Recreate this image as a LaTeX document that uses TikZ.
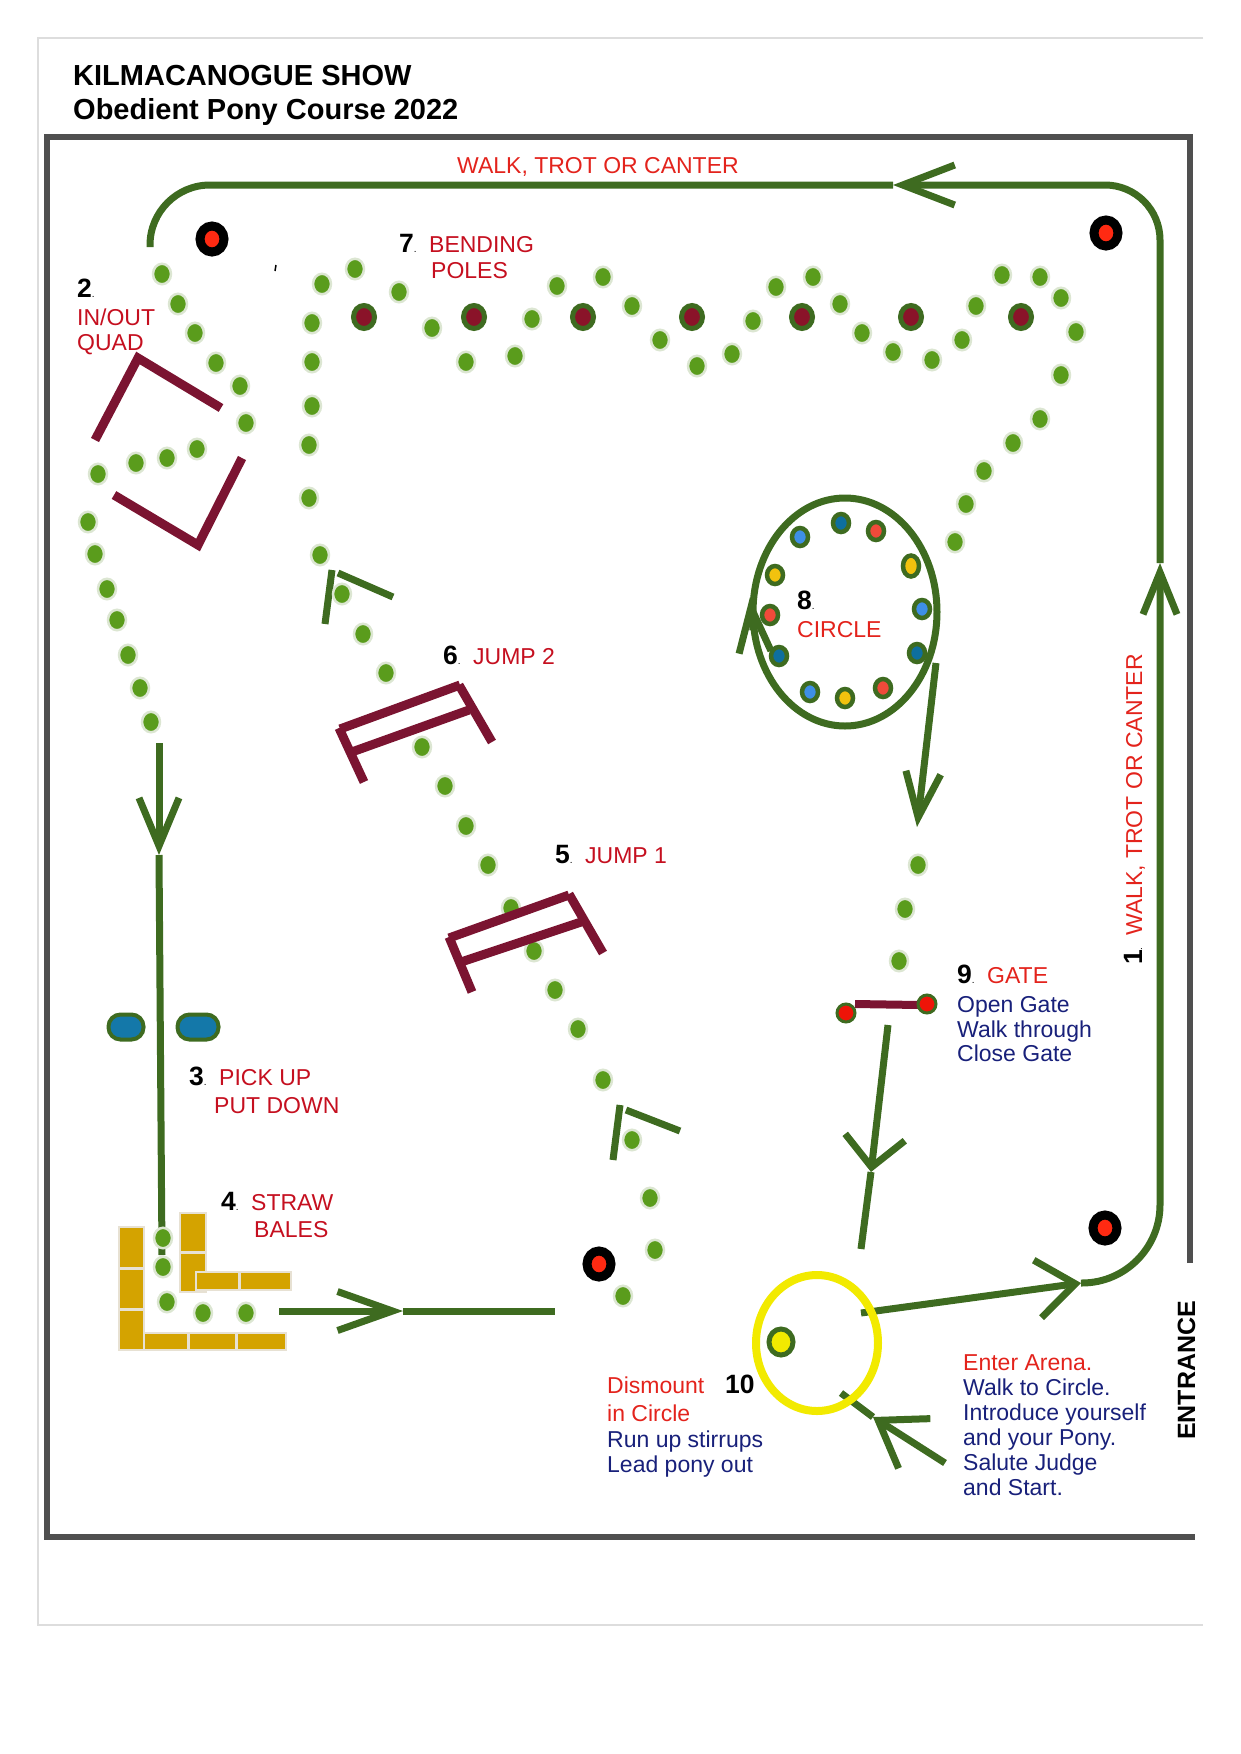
\documentclass[tikz,border=0pt]{standalone}
\usepackage{fontspec}
\setmainfont{Liberation Sans}
\usetikzlibrary{arrows.meta,shapes.geometric}
\definecolor{trackgreen}{HTML}{3E6B20}
\definecolor{conegreen}{HTML}{5A9C1C}
\definecolor{conerim}{HTML}{DCE6D2}
\definecolor{jumpred}{HTML}{7B1431}
\definecolor{polefill}{HTML}{8A1329}
\definecolor{postred}{HTML}{FF2A12}
\definecolor{gatered}{HTML}{EE1408}
\definecolor{framegray}{HTML}{4F4F4F}
\definecolor{edgegray}{HTML}{DDDDDD}
\definecolor{labelred}{HTML}{C50F1F}
\definecolor{brightred}{HTML}{E3231C}
\definecolor{noteblue}{HTML}{18207A}
\definecolor{straw}{HTML}{D4A300}
\definecolor{strawrim}{HTML}{E7E1D3}
\definecolor{ovalblue}{HTML}{1478A9}
\definecolor{cirblue}{HTML}{3E8FE6}
\definecolor{cirteal}{HTML}{0E6F9E}
\definecolor{cirred}{HTML}{F04A3A}
\definecolor{ciryel}{HTML}{F2C20E}
\definecolor{ringyel}{HTML}{F2EA00}
\newcommand{\numdot}{{\fontsize{10}{10}\selectfont\mdseries .}}

\begin{document}
\begin{tikzpicture}[x=1pt,y=-1pt,
	track/.style={draw=trackgreen,line width=7pt},
	headed/.style 2 args={-{Straight Barb[length=#1,width=#2]}},
	cone/.style={ellipse,fill=conegreen,draw=conerim,line width=2.5pt,inner sep=0,minimum width=18pt,minimum height=20.5pt},
	pole/.style={ellipse,fill=polefill,draw=trackgreen,line width=5pt,inner sep=0,minimum width=21pt,minimum height=23pt},
	post/.style={ellipse,fill=postred,draw=black,line width=9pt,inner sep=0,minimum width=24pt,minimum height=26pt},
	marker/.style={ellipse,draw=trackgreen,line width=4.5pt,inner sep=0,minimum width=16pt,minimum height=18pt},
	oval/.style={rectangle,rounded corners=12pt,fill=ovalblue,draw=trackgreen,line width=4pt,inner sep=0,minimum height=25pt},
	bale/.style={fill=straw,draw=strawrim,line width=2.5pt},
	jump/.style={draw=jumpred,line width=9pt},
	num/.style={anchor=base west,inner sep=0,font=\fontsize{26.5}{28}\selectfont\bfseries},
	lbl/.style={anchor=base west,inner sep=0,text=labelred,font=\fontsize{23}{25}\selectfont},
	lblb/.style={lbl,text=brightred},
	note/.style={lbl,text=noteblue}]
	\useasboundingbox (0,0) rectangle (1240,1754);
	% frames
	\draw[edgegray,line width=2.5pt] (1203,38) -- (38,38) -- (38,1625) -- (1203,1625);
	\draw[framegray,line width=6.5pt] (1190,1263) -- (1190,137) -- (47,137) -- (47,1537) -- (1195,1537);
	% title
	\node[anchor=base west,inner sep=0,font=\fontsize{29}{31}\selectfont\bfseries] (title) at (73,85) {KILMACANOGUE SHOW};
	\node[anchor=base west,inner sep=0,font=\fontsize{29}{31}\selectfont\bfseries] (subtitle) at (73,119) {Obedient Pony Course 2022};
	% track
	\coordinate (e0) at (945,1463);
	\coordinate (ea) at (873,1417);
	\coordinate (e1) at (841,1393);
	\coordinate (y0) at (861,1313);
	\coordinate (y1) at (1081,1283);
	\coordinate (brc) at (1160,1282);
	\coordinate (rt) at (1160,563);
	\coordinate (trc) at (1160,185);
	\coordinate (ta) at (893,185);
	\coordinate (tlc) at (150,185);
	\coordinate (tl0) at (150,247);
	\coordinate (l0) at (159,743);
	\coordinate (la) at (159,855);
	\coordinate (l1) at (162,1255);
	\coordinate (h0) at (279,1311);
	\coordinate (ha) at (403,1311);
	\coordinate (h1) at (555,1311);
	\coordinate (ca0) at (753,630);
	\coordinate (ca) at (750,597);
	\coordinate (cx0) at (936,663);
	\coordinate (cx1) at (917,827);
	\coordinate (g0) at (888,1025);
	\coordinate (ga) at (871,1172);
	\coordinate (g1) at (861,1249);
	\draw[track,headed={43pt}{59pt}] (e0) -- (ea);
	\draw[track] (ea) -- (e1);
	\draw[track,headed={38pt}{58pt}] (y0) -- (y1);
	\draw[track,rounded corners=77pt,headed={42pt}{34pt}] (y1) -- (brc) -- (rt);
	\draw[track,rounded corners=55pt,headed={52pt}{40pt}] (rt) -- (trc) -- (ta);
	\draw[track,rounded corners=60pt] (ta) -- (tlc) -- (tl0);
	\draw[track,headed={48pt}{40pt}] (l0) -- (la);
	\draw[track] (la) -- (l1);
	\draw[track,headed={55pt}{39pt}] (h0) -- (ha);
	\draw[track] (ha) -- (h1);
	\node[ellipse,draw=trackgreen,line width=7pt,minimum width=184pt,minimum height=228pt] (ring) at (845,612) {};
	\draw[track,headed={45pt}{32pt}] (ca0) -- (ca);
	\draw[track,headed={45pt}{35pt}] (cx0) -- (cx1);
	\draw[track,headed={30pt}{60pt}] (g0) -- (ga);
	\draw[track] (ga) -- (g1);
	% flags
	\draw[trackgreen,line width=7pt] (332,570) -- (325,624);
	\draw[trackgreen,line width=7pt] (338,573) -- (393,597);
	\draw[trackgreen,line width=7pt] (620,1105) -- (613,1160);
	\draw[trackgreen,line width=7pt] (626,1110) -- (680,1131);
	\draw[line width=1.5pt] (276,265) -- (275,271);
	% cones
	\node[cone] (c1) at (162,274) {};
	\node[cone] (c2) at (178,304) {};
	\node[cone] (c3) at (195,333) {};
	\node[cone] (c4) at (216,363) {};
	\node[cone] (c5) at (240,386) {};
	\node[cone] (c6) at (246,423) {};
	\node[cone] (c7) at (197,449) {};
	\node[cone] (c8) at (167,458) {};
	\node[cone] (c9) at (136,463) {};
	\node[cone] (c10) at (98,474) {};
	\node[cone] (c11) at (88,522) {};
	\node[cone] (c12) at (95,554) {};
	\node[cone] (c13) at (107,589) {};
	\node[cone] (c14) at (117,620) {};
	\node[cone] (c15) at (128,655) {};
	\node[cone] (c16) at (140,688) {};
	\node[cone] (c17) at (151,722) {};
	\node[cone] (c18) at (163,1238) {};
	\node[cone] (c19) at (163,1267) {};
	\node[cone] (c20) at (167,1302) {};
	\node[cone] (c21) at (203,1313) {};
	\node[cone] (c22) at (246,1313) {};
	\node[cone] (c23) at (623,1296) {};
	\node[cone] (c24) at (655,1250) {};
	\node[cone] (c25) at (650,1198) {};
	\node[cone] (c26) at (632,1140) {};
	\node[cone] (c27) at (603,1080) {};
	\node[cone] (c28) at (578,1029) {};
	\node[cone] (c29) at (555,990) {};
	\node[cone] (c30) at (534,951) {};
	\node[cone] (c31) at (511,908) {};
	\node[cone] (c32) at (488,865) {};
	\node[cone] (c33) at (466,826) {};
	\node[cone] (c34) at (445,786) {};
	\node[cone] (c35) at (422,747) {};
	\node[cone] (c36) at (386,673) {};
	\node[cone] (c37) at (363,634) {};
	\node[cone] (c38) at (342,594) {};
	\node[cone] (c39) at (320,555) {};
	\node[cone] (c40) at (309,498) {};
	\node[cone] (c41) at (309,445) {};
	\node[cone] (c42) at (312,406) {};
	\node[cone] (c43) at (312,362) {};
	\node[cone] (c44) at (312,323) {};
	\node[cone] (c45) at (322,284) {};
	\node[cone] (c46) at (355,269) {};
	\node[cone] (c47) at (399,292) {};
	\node[cone] (c48) at (432,328) {};
	\node[cone] (c49) at (466,362) {};
	\node[cone] (c50) at (515,356) {};
	\node[cone] (c51) at (532,319) {};
	\node[cone] (c52) at (557,286) {};
	\node[cone] (c53) at (603,277) {};
	\node[cone] (c54) at (632,306) {};
	\node[cone] (c55) at (660,340) {};
	\node[cone] (c56) at (697,366) {};
	\node[cone] (c57) at (732,354) {};
	\node[cone] (c58) at (753,321) {};
	\node[cone] (c59) at (776,287) {};
	\node[cone] (c60) at (813,277) {};
	\node[cone] (c61) at (840,304) {};
	\node[cone] (c62) at (862,333) {};
	\node[cone] (c63) at (893,352) {};
	\node[cone] (c64) at (932,360) {};
	\node[cone] (c65) at (962,340) {};
	\node[cone] (c66) at (976,306) {};
	\node[cone] (c67) at (1002,275) {};
	\node[cone] (c68) at (1040,277) {};
	\node[cone] (c69) at (1061,298) {};
	\node[cone] (c70) at (1076,332) {};
	\node[cone] (c71) at (1061,375) {};
	\node[cone] (c72) at (1040,419) {};
	\node[cone] (c73) at (1013,443) {};
	\node[cone] (c74) at (984,471) {};
	\node[cone] (c75) at (966,504) {};
	\node[cone] (c76) at (955,542) {};
	\node[cone] (c77) at (918,865) {};
	\node[cone] (c78) at (905,909) {};
	\node[cone] (c79) at (899,961) {};
	% bending poles
	\node[pole] (p1) at (364,317) {};
	\node[pole] (p2) at (474,317) {};
	\node[pole] (p3) at (583,317) {};
	\node[pole] (p4) at (692,317) {};
	\node[pole] (p5) at (802,317) {};
	\node[pole] (p6) at (911,317) {};
	\node[pole] (p7) at (1021,317) {};
	% quad and jumps
	\draw[jump] (95,440) -- (138,358) -- (221,408);
	\draw[jump] (242,458) -- (198,545) -- (114,495);
	\draw[jump] (340,729) -- (460,685);
	\draw[jump] (349,753) -- (469,710);
	\draw[jump] (339,728) -- (364,782);
	\draw[jump] (459,685) -- (492,742);
	\draw[jump] (449,938) -- (569,895);
	\draw[jump] (458,963) -- (581,922);
	\draw[jump] (449,937) -- (472,992);
	\draw[jump] (569,894) -- (603,953);
	% posts
	\node[post] (post1) at (212,239) {};
	\node[post] (post2) at (1106,233) {};
	\node[post] (post3) at (1105,1228) {};
	\node[post] (post4) at (599,1264) {};
	% circle markers
	\node[marker,fill=cirblue] (m1) at (800,537) {};
	\node[marker,fill=cirteal] (m2) at (841,523) {};
	\node[marker,fill=cirred] (m3) at (876,531) {};
	\node[marker,fill=ciryel,minimum height=21pt] (m4) at (911,566) {};
	\node[marker,fill=cirblue] (m5) at (922,609) {};
	\node[marker,fill=cirteal] (m6) at (917,653) {};
	\node[marker,fill=cirred] (m7) at (883,688) {};
	\node[marker,fill=ciryel] (m8) at (845,698) {};
	\node[marker,fill=cirblue] (m9) at (810,692) {};
	\node[marker,fill=cirteal] (m10) at (779,656) {};
	\node[marker,fill=cirred] (m11) at (770,615) {};
	\node[marker,fill=ciryel] (m12) at (775,575) {};
	% pick up
	\node[oval,minimum width=35pt] (o1) at (126,1027) {};
	\node[oval,minimum width=41pt] (o2) at (198,1027) {};
	% straw bales
	\filldraw[bale] (119,1227) rectangle (144,1268);
	\filldraw[bale] (119,1269) rectangle (144,1309);
	\filldraw[bale] (119,1310) rectangle (144,1350);
	\filldraw[bale] (144,1333) rectangle (188,1350);
	\filldraw[bale] (189,1333) rectangle (236,1350);
	\filldraw[bale] (237,1333) rectangle (286,1350);
	\filldraw[bale] (180,1213) rectangle (206,1252);
	\filldraw[bale] (180,1253) rectangle (206,1292);
	\filldraw[bale] (196,1272) rectangle (239,1290);
	\filldraw[bale] (240,1272) rectangle (291,1290);
	% gate
	\draw[jumpred,line width=8pt] (855,1004) -- (919,1005);
	\node[circle,fill=gatered,draw=trackgreen,line width=3pt,minimum size=18pt,inner sep=0] (gp1) at (846,1013) {};
	\node[circle,fill=gatered,draw=trackgreen,line width=3pt,minimum size=18pt,inner sep=0] (gp2) at (927,1004) {};
	% dismount circle
	\node[ellipse,draw=ringyel,line width=8pt,minimum width=122pt,minimum height=136pt] (yring) at (817,1343) {};
	\node[ellipse,fill=ringyel,draw=trackgreen,line width=5pt,minimum width=24pt,minimum height=26pt,inner sep=0] (ydot) at (781,1342) {};
	% texts
	\node[lblb] (walktop) at (457,173) {WALK, TROT OR CANTER};
	\node[num] (n2) at (77,297) {2\numdot};
	\node[lbl] (inout) at (77,325) {IN/OUT};
	\node[lbl] (quad) at (77,350) {QUAD};
	\node[num] (n7) at (399,252) {7\numdot};
	\node[lbl] (bending) at (429,252) {BENDING};
	\node[lbl] (poles) at (431,278) {POLES};
	\node[num] (n6) at (443,664) {6\numdot};
	\node[lbl] (jump2) at (473,664) {JUMP 2};
	\node[num] (n5) at (555,863) {5\numdot};
	\node[lbl] (jump1) at (585,863) {JUMP 1};
	\node[num] (n8) at (797,609) {8\numdot};
	\node[lblb] (circ) at (797,637) {CIRCLE};
	\node[num] (n3) at (189,1085) {3\numdot};
	\node[lbl] (pickup) at (219,1085) {PICK UP};
	\node[lbl] (putdown) at (214,1113) {PUT DOWN};
	\node[num] (n4) at (221,1210) {4\numdot};
	\node[lbl] (straw) at (251,1210) {STRAW};
	\node[lbl] (bales) at (254,1237) {BALES};
	\node[num] (n9) at (957,983) {9\numdot};
	\node[lblb] (gate) at (987,983) {GATE};
	\node[note] (opengate) at (957,1012) {Open Gate};
	\node[note] (walkthru) at (957,1037) {Walk through};
	\node[note] (closegate) at (957,1061) {Close Gate};
	\node[num,rotate=90] (n1) at (1142,965) {1\numdot};
	\node[lblb,rotate=90] (walkside) at (1142,936) {WALK, TROT OR CANTER};
	\node[lblb] (dismount) at (607,1393) {Dismount};
	\node[num] (n10) at (725,1393) {10};
	\node[lblb] (incircle) at (607,1421) {in Circle};
	\node[note] (runup) at (607,1447) {Run up stirrups};
	\node[note] (leadout) at (607,1472) {Lead pony out};
	\node[lblb] (enter) at (963,1370) {Enter Arena.};
	\node[note] (walkto) at (963,1395) {Walk to Circle.};
	\node[note] (intro) at (963,1420) {Introduce yourself};
	\node[note] (yourpony) at (963,1445) {and your Pony.};
	\node[note] (salute) at (963,1470) {Salute Judge};
	\node[note] (andstart) at (963,1495) {and Start.};
	\node[anchor=base west,inner sep=0,rotate=90,font=\fontsize{25}{27}\selectfont\bfseries] (entrance) at (1195,1440) {ENTRANCE};
\end{tikzpicture}
\end{document}
